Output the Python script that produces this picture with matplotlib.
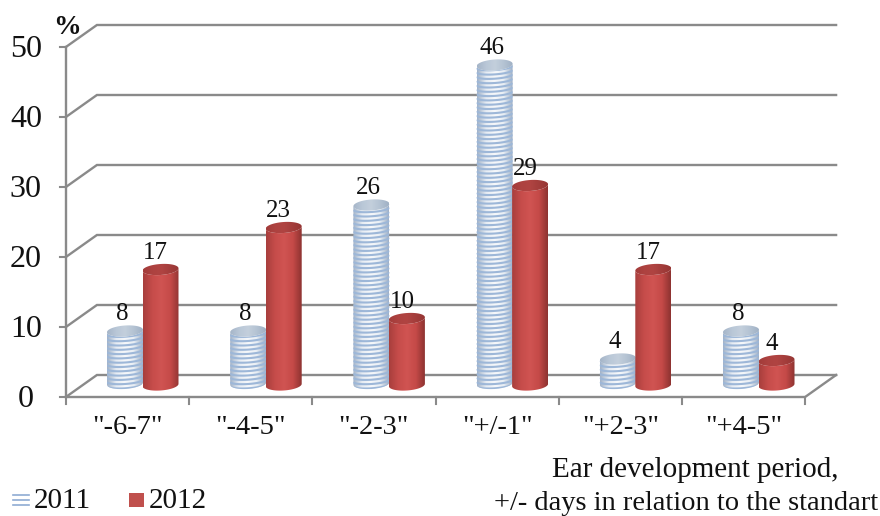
import matplotlib
matplotlib.use("Agg")
import matplotlib.pyplot as plt
from matplotlib.patches import Polygon, Rectangle
from matplotlib.colors import to_rgb
import numpy as np

plt.rcParams["font.family"] = ["Liberation Serif", "DejaVu Serif"]

# ---- data ----
categories = ['"-6-7"', '"-4-5"', '"-2-3"', '"+/-1"', '"+2-3"', '"+4-5"']
values_2011 = [8, 8, 26, 46, 4, 8]
values_2012 = [17, 23, 10, 29, 17, 4]
y_ticks = [0, 10, 20, 30, 40, 50]

W, H = 880, 516
X0_PX, Y0_PX = 127.5, 397      # pixel position of category 0 / value 0
PX_X, PX_Y = 123.2, 7.0        # pixels per category / per value

GRID = "#8a8a8a"
RED_STOPS = ["#a83f3d", "#c64c4a", "#d05452", "#c54a48", "#8e3331"]
BLUE_STOPS = ["#a3b3c8", "#e6ecf3", "#f6f8fb", "#e8eef4", "#9fb0c6"]


def dx(px):
    return px / PX_X


def dy(px):
    return px / PX_Y


def gradient(ax, patch, stops, extent, zorder):
    rgb = np.array([to_rgb(c) for c in stops])
    pos = np.linspace(0, 1, len(stops))
    t = np.linspace(0, 1, 64)
    img = np.stack([np.interp(t, pos, rgb[:, i]) for i in range(3)], axis=-1)[None, :, :]
    im = ax.imshow(img, extent=extent, aspect="auto", zorder=zorder, interpolation="bilinear")
    ax.add_patch(patch)
    patch.set_zorder(zorder)
    patch.set_facecolor("none")
    patch.set_edgecolor("none")
    im.set_clip_path(patch)


def cylinder(ax, xc, value, base, half_w, half_h, shear, stops, top_stops, stripes, zorder):
    t = np.linspace(np.pi, 2 * np.pi, 60)
    ex = xc + half_w * np.cos(t)
    low = half_h * np.sin(t) + shear * np.cos(t)
    # caps sit a little below the nominal height, as in the 3D projection
    top = base + value - dy(3.5)
    body = np.vstack([
        np.column_stack([ex, base + low]),
        np.column_stack([ex[::-1], (top + low)[::-1]]),
    ])
    extent = (xc - half_w, xc + half_w, base - 2 * half_h, top + 2 * half_h)
    patch = Polygon(body, closed=True, transform=ax.transData)
    gradient(ax, patch, stops, extent, zorder)

    if stripes:
        sag = 0.6 * half_h * np.sin(t) + shear * np.cos(t)
        lev = base - dy(1.5)
        step = dy(4.3)
        while lev < top + dy(1):
            ln, = ax.plot(ex, lev + sag, color="#9db7d8", lw=1.5, zorder=zorder + 0.1,
                          solid_capstyle="butt")
            ln.set_clip_path(patch)
            lev += step

    t2 = np.linspace(0, 2 * np.pi, 90)
    cap = np.column_stack([xc + half_w * np.cos(t2),
                           top + half_h * np.sin(t2) + shear * np.cos(t2)])
    cap_patch = Polygon(cap, closed=True, transform=ax.transData)
    gradient(ax, cap_patch, top_stops, extent, zorder + 0.2)


fig = plt.figure(figsize=(W / 100, H / 100), dpi=100)
ax = fig.add_axes([0, 0, 1, 1])
ax.set_xlim(-X0_PX / PX_X, (W - X0_PX) / PX_X)
ax.set_ylim(-(H - Y0_PX) / PX_Y, Y0_PX / PX_Y)
ax.set_autoscale_on(False)
ax.axis("off")

# ---- walls ----
depth_x, depth_y = dx(31), dy(22)
left, right = -0.5, len(categories) - 0.5
for v in y_ticks:
    ax.plot([left, left + depth_x, right + depth_x], [v, v + depth_y, v + depth_y],
            color=GRID, lw=1.7, zorder=1, solid_joinstyle="miter")
    ax.plot([left - dx(6), left], [v, v], color=GRID, lw=1.5, zorder=1)
ax.plot([left, left], [0, y_ticks[-1]], color=GRID, lw=1.7, zorder=1)
ax.plot([left, right, right + depth_x], [0, 0, depth_y], color=GRID, lw=1.7, zorder=1,
        solid_joinstyle="miter")
for i in range(len(categories) + 1):
    ax.plot([left + i, left + i], [0, -dy(7)], color=GRID, lw=1.5, zorder=1)

# ---- bars ----
HALF_W = dx(18)
RED_TOP = ["#a23c3a", "#ad4240", "#b04442", "#a33d3b", "#963634"]
BLUE_TOP = ["#a5b5c8", "#b9c7d7", "#c3cfdc", "#b4c3d3", "#a0b1c5"]
for i, (a, b) in enumerate(zip(values_2011, values_2012)):
    xa, xb = i - dx(2.5), i + dx(33)
    z = 3 + i
    cylinder(ax, xa, a, dy(13.5), HALF_W, dy(5.5), dy(1.2), BLUE_STOPS, BLUE_TOP, True, z)
    cylinder(ax, xb, b, dy(12), HALF_W, dy(5.5), dy(1.2), RED_STOPS, RED_TOP, False, z + 0.5)
    ax.annotate(str(a), (xa, a + dy(13.5)), xytext=(-2, 2), textcoords="offset points",
                ha="center", va="bottom", fontsize=18, color="#111111", zorder=20)
    ax.annotate(str(b), (xb, b + dy(12)), xytext=(-3.5, 1.5), textcoords="offset points",
                ha="center", va="bottom", fontsize=18, color="#111111", zorder=20)

# ---- tick labels ----
for v in y_ticks:
    ax.text(left - dx(40), v - dy(2.5), str(v), ha="center", va="center", fontsize=23,
            color="#111111")
for i, c in enumerate(categories):
    ax.text(i, -dy(30), c, ha="center", va="center", fontsize=20.5, color="#111111")

fig.text(67 / W, 1 - 27 / H, "%", ha="center", va="center", fontsize=20,
         fontweight="bold", color="#111111")

# ---- legend ----
for y in (495, 500, 505):
    ax.plot([dx(13 - X0_PX), dx(29 - X0_PX)], [dy(Y0_PX - y)] * 2, color="#8fabd3", lw=1.2)
ax.add_patch(Rectangle((dx(129 - X0_PX), dy(Y0_PX - 507)), dx(15), dy(14),
                       facecolor="#c0504d", edgecolor="none"))
fig.text(34 / W, 1 - 501 / H, "2011", ha="left", va="center", fontsize=21, color="#111111")
fig.text(149 / W, 1 - 501 / H, "2012", ha="left", va="center", fontsize=21, color="#111111")

# ---- axis title ----
fig.text(695 / W, 1 - 470 / H, "Ear development period,", ha="center", va="center",
         fontsize=21, color="#111111")
fig.text(686 / W, 1 - 503 / H, "+/- days in relation to the standart", ha="center", va="center",
         fontsize=20.5, color="#111111")

fig.savefig("out.png", dpi=100)
